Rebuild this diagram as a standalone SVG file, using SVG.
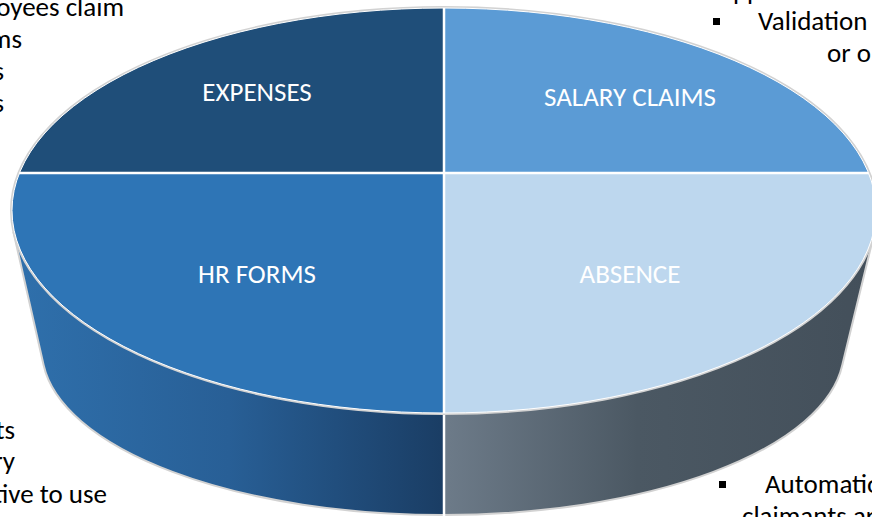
<svg xmlns="http://www.w3.org/2000/svg" width="872" height="517" viewBox="0 0 872 517">
  <defs>
    <linearGradient id="sideLeft" gradientUnits="userSpaceOnUse" x1="13" y1="0" x2="444" y2="0">
      <stop offset="0" stop-color="#2F70AC"/>
      <stop offset="0.5" stop-color="#285F96"/>
      <stop offset="1" stop-color="#1A3D64"/>
    </linearGradient>
    <linearGradient id="sideRight" gradientUnits="userSpaceOnUse" x1="444" y1="0" x2="875" y2="0">
      <stop offset="0" stop-color="#6D7B89"/>
      <stop offset="0.45" stop-color="#4B5863"/>
      <stop offset="1" stop-color="#434F5A"/>
    </linearGradient>
    <clipPath id="leftHalf"><rect x="0" y="0" width="444" height="517"/></clipPath>
    <clipPath id="rightHalf"><rect x="444" y="0" width="428" height="517"/></clipPath>
    <style>
      .note { font-family: Carlito, Calibri, Lato, "Liberation Sans", sans-serif; font-size: 27px; fill: #000000; }
      .label { font-family: Carlito, Calibri, Lato, "Liberation Sans", sans-serif; font-size: 27px; fill: #FFFFFF; text-anchor: middle; }
      .divider { stroke: #FFFFFF; stroke-width: 2.5; fill: none; }
      .rim { stroke: #D2D2D2; stroke-width: 2; fill: none; }
    </style>
  </defs>

  <rect width="872" height="517" fill="#FFFFFF"/>

  <!-- surrounding bullet text, partly covered by the disc -->
  <g id="notes">
    <text class="note" x="720" y="0">approvers</text>
    <rect x="713" y="18" width="7" height="7" fill="#000000"/>
    <text class="note" x="758" y="30">Validation</text>
    <text class="note" x="827" y="62">or o</text>
    <text class="note" x="124" y="16" text-anchor="end">oyees claim</text>
    <text class="note" x="22" y="48" text-anchor="end">ms</text>
    <text class="note" x="4" y="80" text-anchor="end">s</text>
    <text class="note" x="4" y="112" text-anchor="end">s</text>
    <text class="note" x="15" y="439" text-anchor="end">ts</text>
    <text class="note" x="15" y="470" text-anchor="end">ry</text>
    <text class="note" x="107" y="503" text-anchor="end">tive to use</text>
    <rect x="719" y="481" width="7" height="7" fill="#000000"/>
    <text class="note" x="765" y="493">Automatio</text>
    <text class="note" x="742" y="525">claimants ar</text>
  </g>

  <!-- side wall of the disc -->
  <g id="side">
    <path d="M 13.4 231.8 L 43.6 365 A 401 165 0 0 0 842.3 365 L 874.6 231.8 A 433 203.5 0 0 1 13.4 231.8 Z" fill="url(#sideLeft)" clip-path="url(#leftHalf)"/>
    <path d="M 13.4 231.8 L 43.6 365 A 401 165 0 0 0 842.3 365 L 874.6 231.8 A 433 203.5 0 0 1 13.4 231.8 Z" fill="url(#sideRight)" clip-path="url(#rightHalf)"/>
    <path class="rim" d="M 13.4 231.8 L 43.6 365 A 401 165 0 0 0 842.3 365 L 874.6 231.8"/>
    <line class="divider" x1="444" y1="414" x2="444" y2="516"/>
  </g>

  <!-- top face quadrants -->
  <g id="expenses">
    <path d="M 444 173 L 18.4 173 A 433 203.5 0 0 1 444 7 Z" fill="#1F4E79"/>
    <text class="label" x="257" y="101">EXPENSES</text>
  </g>
  <g id="salary-claims">
    <path d="M 444 173 L 444 7 A 433 203.5 0 0 1 869.6 173 Z" fill="#5B9BD5"/>
    <text class="label" x="630" y="106">SALARY CLAIMS</text>
  </g>
  <g id="absence">
    <path d="M 444 173 L 869.6 173 A 433 203.5 0 0 1 444 414 Z" fill="#BDD7EE"/>
    <text class="label" x="630" y="283">ABSENCE</text>
  </g>
  <g id="hr-forms">
    <path d="M 444 173 L 444 414 A 433 203.5 0 0 1 18.4 173 Z" fill="#2E75B6"/>
    <text class="label" x="257" y="283">HR FORMS</text>
  </g>

  <!-- separators and rim of the top face -->
  <g id="connectors">
    <line class="divider" x1="18.4" y1="173" x2="869.6" y2="173"/>
    <line class="divider" x1="444" y1="7" x2="444" y2="414"/>
    <ellipse class="rim" cx="444" cy="210.5" rx="433" ry="203.5"/>
    <ellipse cx="444" cy="210.5" rx="432" ry="202.5" fill="none" stroke="#FFFFFF" stroke-width="1"/>
  </g>
</svg>
